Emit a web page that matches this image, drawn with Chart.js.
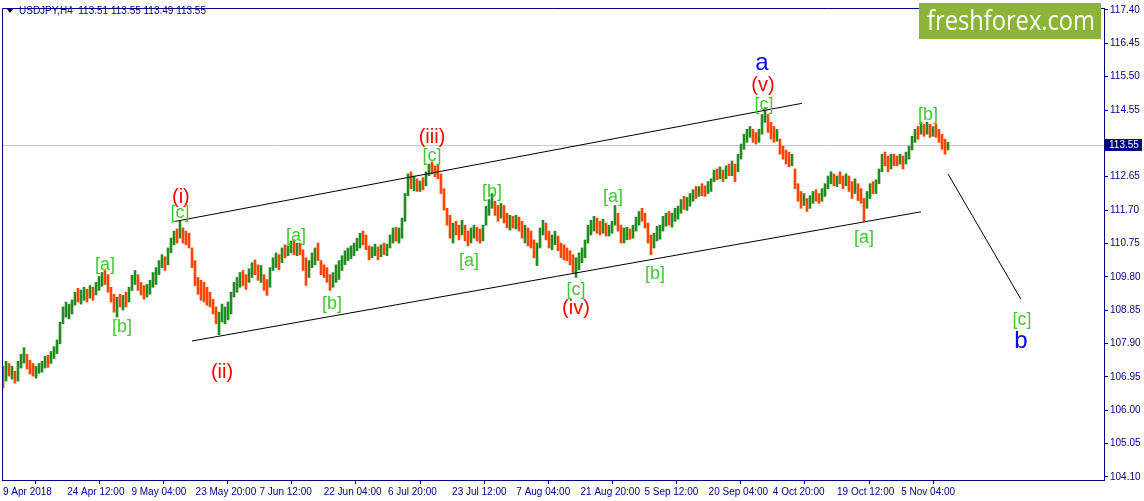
<!DOCTYPE html>
<html>
<head>
<meta charset="utf-8">
<script src="https://cdn.jsdelivr.net/npm/chart.js@4.4.1/dist/chart.umd.min.js"></script>
<style>
  html, body { margin: 0; padding: 0; background: #fff; }
</style>
</head>
<body>
<canvas id="usdjpy" width="1144" height="501"></canvas>
<script>
// USDJPY H4 - each entry is one slot of the chart (high / low / close)
const highs = [
  107.25, 107.39, 107.33, 107.25, 107.11, 107.39, 107.59, 107.78, 107.59, 107.42,
  107.33, 107.25, 107.33, 107.39, 107.53, 107.56, 107.67, 107.81, 108.00, 108.51,
  108.94, 109.08, 109.02, 109.14, 109.36, 109.47, 109.42, 109.50, 109.44, 109.55,
  109.50, 109.64, 109.81, 109.92, 109.98, 109.86, 109.50, 109.30, 109.22, 109.30,
  109.27, 109.36, 109.50, 109.84, 109.98, 109.86, 109.64, 109.55, 109.58, 109.70,
  109.92, 110.06, 110.26, 110.43, 110.37, 110.62, 110.90, 111.10, 111.16, 111.38,
  111.19, 111.10, 111.04, 110.62, 110.26, 109.78, 109.70, 109.64, 109.50, 109.36,
  109.16, 108.94, 108.79, 109.02, 108.94, 109.08, 109.36, 109.64, 109.78, 109.92,
  109.98, 109.86, 110.03, 110.20, 110.28, 110.14, 110.12, 109.86, 109.72, 110.06,
  110.34, 110.48, 110.43, 110.62, 110.71, 110.68, 110.82, 110.85, 110.76, 110.76,
  110.57, 110.34, 110.26, 110.48, 110.62, 110.76, 110.26, 110.14, 110.06, 109.86,
  109.92, 110.14, 110.26, 110.40, 110.54, 110.62, 110.68, 110.76, 110.90, 111.04,
  111.10, 110.99, 110.68, 110.65, 110.73, 110.65, 110.71, 110.76, 110.73, 110.99,
  111.19, 111.21, 111.19, 111.47, 112.17, 112.73, 112.79, 112.67, 112.59, 112.53,
  112.62, 112.79, 113.01, 113.07, 112.96, 113.01, 112.73, 112.31, 111.75, 111.55,
  111.33, 111.38, 111.27, 111.41, 111.27, 111.10, 111.19, 111.27, 111.21, 111.16,
  111.27, 111.81, 112.00, 112.17, 111.95, 111.83, 111.89, 111.83, 111.61, 111.55,
  111.52, 111.55, 111.50, 111.38, 111.27, 111.19, 111.10, 110.85, 110.76, 111.19,
  111.41, 111.33, 111.10, 110.99, 111.10, 110.96, 110.76, 110.71, 110.62, 110.54,
  110.43, 110.34, 110.48, 110.62, 110.85, 111.27, 111.41, 111.52, 111.47, 111.38,
  111.44, 111.33, 111.27, 111.38, 111.83, 111.61, 111.27, 111.19, 111.21, 111.16,
  111.27, 111.50, 111.66, 111.75, 111.61, 111.33, 110.99, 111.04, 111.24, 111.27,
  111.52, 111.61, 111.66, 111.61, 111.75, 111.81, 112.00, 112.09, 112.06, 112.17,
  112.28, 112.37, 112.37, 112.45, 112.39, 112.51, 112.59, 112.84, 112.87, 112.93,
  112.84, 112.96, 113.01, 113.10, 113.01, 113.29, 113.58, 113.86, 114.00, 114.08,
  114.00, 113.91, 114.00, 114.42, 114.62, 114.42, 114.20, 114.08, 114.00, 113.72,
  113.52, 113.41, 113.35, 113.29, 112.87, 112.45, 112.23, 112.17, 112.03, 112.11,
  112.23, 112.28, 112.17, 112.31, 112.45, 112.67, 112.79, 112.73, 112.67, 112.79,
  112.67, 112.73, 112.67, 112.51, 112.59, 112.45, 112.31, 112.03, 112.23, 112.45,
  112.51, 112.56, 112.87, 113.29, 113.35, 113.24, 113.29, 113.29, 113.24, 113.29,
  113.24, 113.35, 113.52, 113.80, 114.00, 114.08, 114.20, 114.14, 114.20, 114.14,
  114.08, 114.14, 114.00, 113.86, 113.72, 113.63
];
const lows = [
  106.63, 106.83, 106.97, 106.88, 106.77, 106.83, 107.20, 107.34, 107.17, 107.03,
  106.97, 106.91, 107.05, 107.08, 107.20, 107.22, 107.33, 107.47, 107.61, 107.89,
  108.46, 108.65, 108.60, 108.74, 108.99, 109.08, 109.02, 109.13, 109.08, 109.19,
  109.13, 109.28, 109.41, 109.53, 109.58, 109.36, 109.08, 108.79, 108.65, 108.94,
  108.85, 108.94, 109.08, 109.41, 109.58, 109.41, 109.28, 109.16, 109.22, 109.30,
  109.50, 109.58, 109.86, 110.06, 109.98, 110.14, 110.48, 110.71, 110.76, 110.90,
  110.76, 110.71, 110.62, 110.06, 109.55, 109.30, 109.13, 109.08, 108.99, 108.94,
  108.74, 108.46, 108.15, 108.51, 108.46, 108.57, 108.74, 109.22, 109.36, 109.50,
  109.55, 109.44, 109.64, 109.78, 109.86, 109.70, 109.64, 109.41, 109.27, 109.50,
  109.98, 110.06, 110.00, 110.20, 110.34, 110.40, 110.48, 110.43, 110.40, 110.43,
  109.98, 109.55, 109.78, 110.06, 110.14, 110.26, 109.86, 109.78, 109.64, 109.41,
  109.50, 109.64, 109.72, 109.98, 110.14, 110.26, 110.31, 110.40, 110.54, 110.62,
  110.71, 110.57, 110.28, 110.34, 110.40, 110.28, 110.37, 110.43, 110.40, 110.62,
  110.76, 110.82, 110.76, 110.90, 111.38, 112.11, 112.31, 112.25, 112.23, 112.23,
  112.28, 112.39, 112.68, 112.73, 112.65, 112.59, 112.17, 111.70, 111.27, 110.90,
  110.76, 110.99, 110.85, 110.99, 110.82, 110.68, 110.76, 110.90, 110.82, 110.76,
  110.82, 111.27, 111.55, 111.75, 111.55, 111.38, 111.47, 111.33, 111.19, 111.13,
  111.19, 111.16, 111.10, 110.90, 110.76, 110.68, 110.62, 110.34, 110.12, 110.62,
  110.99, 110.85, 110.62, 110.57, 110.71, 110.54, 110.34, 110.28, 110.26, 110.14,
  109.92, 109.78, 110.00, 110.20, 110.34, 110.76, 110.99, 111.10, 111.04, 110.99,
  111.04, 110.96, 110.96, 111.04, 111.27, 111.10, 110.76, 110.76, 110.85, 110.87,
  110.90, 111.10, 111.27, 111.38, 111.19, 110.76, 110.43, 110.62, 110.82, 110.87,
  111.10, 111.24, 111.27, 111.21, 111.38, 111.44, 111.61, 111.72, 111.69, 111.81,
  111.95, 112.03, 112.09, 112.11, 112.09, 112.17, 112.23, 112.51, 112.56, 112.59,
  112.51, 112.59, 112.68, 112.68, 112.51, 112.79, 113.15, 113.43, 113.63, 113.77,
  113.63, 113.58, 113.63, 113.86, 114.20, 113.91, 113.72, 113.63, 113.66, 113.29,
  113.15, 113.01, 112.93, 112.96, 112.31, 111.95, 111.75, 111.83, 111.66, 111.75,
  111.89, 111.95, 111.89, 111.95, 112.09, 112.31, 112.45, 112.39, 112.37, 112.45,
  112.31, 112.39, 112.23, 112.03, 112.17, 111.97, 111.89, 111.38, 111.75, 112.03,
  112.17, 112.17, 112.45, 112.79, 112.96, 112.79, 112.87, 112.96, 112.96, 113.01,
  112.87, 113.01, 113.15, 113.41, 113.63, 113.72, 113.86, 113.80, 113.86, 113.77,
  113.80, 113.77, 113.63, 113.43, 113.29, 113.41
];
const closes = [
  106.80, 107.20, 107.00, 107.10, 106.90, 107.30, 107.50, 107.60, 107.30, 107.10,
  107.05, 107.15, 107.25, 107.30, 107.45, 107.35, 107.60, 107.75, 107.90, 108.45,
  108.85, 108.90, 108.95, 109.05, 109.30, 109.20, 109.30, 109.35, 109.25, 109.45,
  109.30, 109.55, 109.70, 109.80, 109.70, 109.45, 109.20, 109.00, 109.10, 109.00,
  109.15, 109.10, 109.40, 109.70, 109.85, 109.50, 109.35, 109.30, 109.45, 109.60,
  109.80, 109.95, 110.20, 110.35, 110.10, 110.55, 110.80, 111.00, 110.90, 111.25,
  110.95, 110.85, 110.70, 110.15, 109.70, 109.50, 109.40, 109.30, 109.20, 109.00,
  108.90, 108.55, 108.60, 108.70, 108.85, 109.00, 109.30, 109.50, 109.70, 109.80,
  109.75, 109.70, 109.90, 110.10, 110.05, 109.85, 110.00, 109.60, 109.50, 109.95,
  110.25, 110.40, 110.20, 110.55, 110.50, 110.60, 110.70, 110.60, 110.70, 110.50,
  110.10, 109.80, 110.10, 110.30, 110.40, 110.30, 110.00, 109.90, 109.80, 109.55,
  109.75, 110.00, 110.15, 110.30, 110.45, 110.50, 110.60, 110.70, 110.85, 110.95,
  110.90, 110.70, 110.50, 110.55, 110.60, 110.40, 110.60, 110.50, 110.65, 110.90,
  111.10, 110.95, 111.05, 111.40, 112.10, 112.60, 112.45, 112.50, 112.30, 112.45,
  112.40, 112.70, 112.90, 112.80, 112.75, 112.65, 112.30, 111.80, 111.40, 111.10,
  111.20, 111.10, 111.00, 111.25, 110.95, 110.80, 111.10, 111.20, 111.05, 110.95,
  111.20, 111.70, 111.85, 111.95, 111.70, 111.60, 111.80, 111.50, 111.35, 111.40,
  111.30, 111.45, 111.25, 111.00, 111.10, 110.85, 110.70, 110.45, 110.50, 111.00,
  111.30, 111.05, 110.75, 110.80, 110.95, 110.65, 110.50, 110.45, 110.35, 110.20,
  110.00, 110.20, 110.35, 110.45, 110.75, 111.15, 111.30, 111.40, 111.20, 111.10,
  111.30, 111.15, 111.20, 111.30, 111.70, 111.25, 110.90, 111.00, 111.10, 110.95,
  111.20, 111.40, 111.55, 111.50, 111.30, 110.90, 110.60, 110.90, 111.10, 111.15,
  111.45, 111.50, 111.40, 111.55, 111.60, 111.75, 111.90, 111.85, 112.00, 112.05,
  112.20, 112.15, 112.30, 112.25, 112.20, 112.40, 112.50, 112.75, 112.70, 112.85,
  112.60, 112.90, 112.80, 113.00, 112.60, 113.20, 113.50, 113.80, 113.90, 113.95,
  113.75, 113.70, 113.90, 114.30, 114.30, 114.00, 113.85, 113.75, 113.80, 113.40,
  113.30, 113.20, 113.05, 113.10, 112.40, 112.10, 111.90, 112.00, 111.80, 112.00,
  112.10, 112.05, 111.95, 112.20, 112.35, 112.55, 112.60, 112.50, 112.60, 112.55,
  112.40, 112.65, 112.30, 112.10, 112.45, 112.05, 111.95, 111.60, 112.10, 112.35,
  112.30, 112.50, 112.80, 113.10, 113.05, 112.95, 113.20, 113.10, 113.05, 113.20,
  112.95, 113.30, 113.45, 113.70, 113.90, 113.85, 114.10, 113.95, 114.00, 113.90,
  114.00, 113.85, 113.70, 113.60, 113.40, 113.55
];
const firstOpen = 106.95;

const dateLabels = ['9 Apr 2018', '24 Apr 12:00', '9 May 04:00', '23 May 20:00', '7 Jun 12:00',
  '22 Jun 04:00', '6 Jul 20:00', '23 Jul 12:00', '7 Aug 04:00', '21 Aug 20:00',
  '5 Sep 12:00', '20 Sep 04:00', '4 Oct 20:00', '19 Oct 12:00', '5 Nov 04:00'];
const dateTickBars = [0, 21.4, 42.8, 64.2, 85.5, 106.9, 128.3, 149.7, 171.1, 192.5,
  213.8, 235.2, 256.6, 278.0, 299.4];

const priceTicks = [117.40, 116.45, 115.50, 114.55, 112.65, 111.70, 110.75, 109.80,
  108.85, 107.90, 106.95, 106.00, 105.05, 104.10];
const lastPrice = 113.55;
const titleText = 'USDJPY,H4  113.51 113.55 113.49 113.55';

// trend lines (bar index, price)
const upperChannel = [{x: 56.3, y: 111.36}, {x: 266.3, y: 114.74}];
const lowerChannel = [{x: 63.0, y: 107.97}, {x: 306.0, y: 111.65}];
const projection = [{x: 315.0, y: 112.73}, {x: 339.3, y: 109.16}];

// wave marks: text, bar index, price, kind
const waveText = ['a', '(v)', '[c]', '(iii)', '[c]', '(i)', '[c]', '[a]', '[b]', '(ii)',
  '[a]', '[b]', '[a]', '[b]', '[c]', '(iv)', '[a]', '[b]', '[a]', '[b]', '[c]', 'b'];
const waveBar = [253.0, 253.3, 253.7, 143.0, 143.0, 59.3, 59.0, 34.0, 39.7, 73.0,
  97.7, 109.7, 155.3, 163.0, 191.0, 191.0, 203.3, 217.3, 287.0, 308.3, 339.7, 339.3];
const wavePrice = [115.88, 115.26, 114.70, 113.77, 113.24, 112.06, 111.61, 110.12, 108.37, 107.08,
  110.96, 109.02, 110.26, 112.20, 109.41, 108.91, 112.06, 109.89, 110.90, 114.42, 108.57, 107.95];
const waveKind = ['big', 'mid', 'small', 'mid', 'small', 'mid', 'small', 'small', 'small', 'mid',
  'small', 'small', 'small', 'small', 'small', 'mid', 'small', 'small', 'small', 'small', 'small', 'big'];

const NAVY = '#000080';
const UP = '#228b22';
const DOWN = '#ff4500';
const FONT = '"Liberation Sans", Arial, sans-serif';

const kindStyle = {
  big: {size: 24, color: '#0000ff'},
  mid: {size: 20, color: '#ff0000'},
  small: {size: 18, color: '#44c833'}
};

const bars = highs.map((h, i) => ({x: i, y: [lows[i], h]}));
const barColors = closes.map((c, i) => {
  const o = i === 0 ? firstOpen : closes[i - 1];
  return c >= o ? UP : DOWN;
});

const overlay = {
  id: 'overlay',
  beforeDatasetsDraw(chart) {
    const {ctx, chartArea: a, scales: {y}} = chart;
    const py = Math.round(y.getPixelForValue(lastPrice)) + 0.5;
    ctx.save();
    ctx.strokeStyle = '#c8c8c8';
    ctx.lineWidth = 1;
    ctx.beginPath();
    ctx.moveTo(a.left, py);
    ctx.lineTo(a.right, py);
    ctx.stroke();
    ctx.restore();
  },
  afterDraw(chart) {
    const {ctx, chartArea: a, scales: {x, y}} = chart;
    ctx.save();

    // frame top / left
    ctx.strokeStyle = NAVY;
    ctx.lineWidth = 1;
    ctx.beginPath();
    ctx.moveTo(a.left + 0.5, a.bottom);
    ctx.lineTo(a.left + 0.5, a.top + 0.5);
    ctx.lineTo(a.right, a.top + 0.5);
    ctx.stroke();

    // wave labels
    ctx.textAlign = 'center';
    ctx.textBaseline = 'middle';
    waveText.forEach((t, i) => {
      const st = kindStyle[waveKind[i]];
      ctx.font = st.size + 'px ' + FONT;
      ctx.fillStyle = st.color;
      ctx.fillText(t, x.getPixelForValue(waveBar[i]), y.getPixelForValue(wavePrice[i]));
    });

    // current price box
    const py = Math.round(y.getPixelForValue(lastPrice));
    ctx.fillStyle = NAVY;
    ctx.fillRect(a.right + 1, py - 6, 37, 12);
    ctx.fillStyle = '#ffffff';
    ctx.font = '10px ' + FONT;
    ctx.textAlign = 'left';
    ctx.fillText(lastPrice.toFixed(2), a.right + 5, py + 0.5);

    // title
    ctx.fillStyle = '#000000';
    ctx.beginPath();
    ctx.moveTo(7, 9);
    ctx.lineTo(13, 9);
    ctx.lineTo(10, 13);
    ctx.closePath();
    ctx.fill();
    ctx.fillStyle = NAVY;
    ctx.font = '10px ' + FONT;
    ctx.fillText(titleText, 19, 11.5);

    // logo
    ctx.fillStyle = '#8db43a';
    ctx.fillRect(919, 3, 182, 36);
    ctx.fillStyle = '#ffffff';
    ctx.font = '27px "Open Sans", sans-serif';
    ctx.textBaseline = 'alphabetic';
    ctx.fillText('freshforex.com', 927, 30, 168);

    ctx.restore();
  }
};

const lineStyle = {
  type: 'line', borderColor: '#000000', borderWidth: 1, pointRadius: 0, fill: false
};

const ctx = document.getElementById('usdjpy').getContext('2d');
new Chart(ctx, {
  type: 'bar',
  data: {
    datasets: [
      {type: 'bar', data: bars, backgroundColor: barColors, barThickness: 2, borderWidth: 0, order: 2},
      Object.assign({data: upperChannel, order: 1}, lineStyle),
      Object.assign({data: lowerChannel, order: 1}, lineStyle),
      Object.assign({data: projection, order: 1}, lineStyle)
    ]
  },
  options: {
    responsive: false,
    animation: false,
    layout: {padding: {left: 2, top: 2, right: 0, bottom: 0}},
    plugins: {legend: {display: false}, tooltip: {enabled: false}},
    scales: {
      x: {
        type: 'linear',
        min: -1 / 3,
        max: 367,
        offset: false,
        afterBuildTicks: (s) => { s.ticks = dateTickBars.map(v => ({value: v})); },
        afterFit: (s) => { s.height = 21; },
        grid: {drawOnChartArea: false, drawTicks: true, tickLength: 4, color: NAVY},
        border: {color: NAVY},
        ticks: {
          autoSkip: false, maxRotation: 0, align: 'start', padding: 2, color: NAVY,
          font: {family: FONT, size: 10},
          callback: (v, i) => dateLabels[i]
        }
      },
      y: {
        type: 'linear',
        position: 'right',
        min: 104.01,
        max: 117.456,
        afterBuildTicks: (s) => { s.ticks = priceTicks.map(v => ({value: v})); },
        afterFit: (s) => { s.width = 40; },
        grid: {drawOnChartArea: false, drawTicks: true, tickLength: 4, color: NAVY},
        border: {color: NAVY},
        ticks: {
          padding: 2, color: NAVY, font: {family: FONT, size: 10},
          callback: (v) => v.toFixed(2)
        }
      }
    }
  },
  plugins: [overlay]
});
</script>
</body>
</html>
